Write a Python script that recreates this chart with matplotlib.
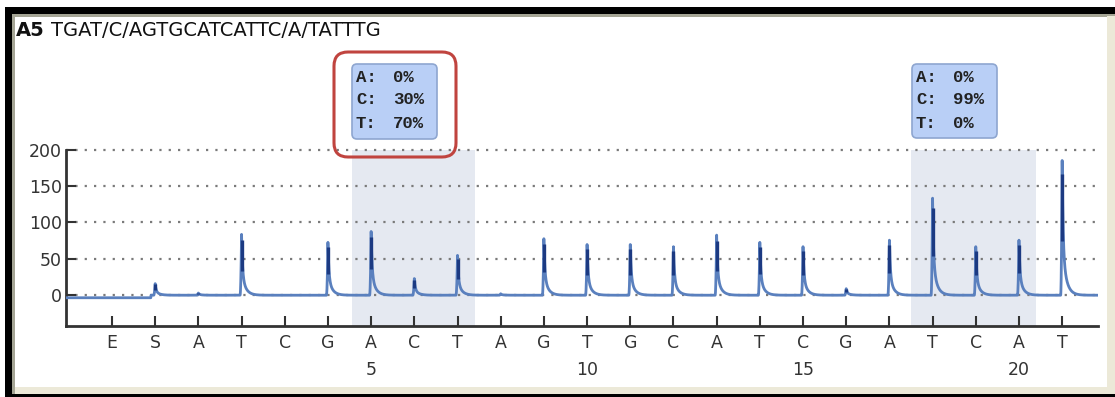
import numpy as np
import matplotlib
matplotlib.use("Agg")
import matplotlib.pyplot as plt
from matplotlib.patches import Rectangle, FancyBboxPatch
from matplotlib.transforms import blended_transform_factory

dispensation = ['E', 'S', 'A', 'T', 'C', 'G', 'A', 'C', 'T', 'A', 'G', 'T',
                'G', 'C', 'A', 'T', 'C', 'G', 'A', 'T', 'C', 'A', 'T']
peak_height = [0, 16, 3, 84, 0, 73, 88, 23, 55, 2, 78, 70,
               70, 67, 83, 73, 67, 9, 76, 134, 67, 76, 186]

# nucleotide numbering under the dispensations
number_labels = ['5', '10', '15', '20']
number_pos = [7, 12, 17, 22]

yticks = [0, 50, 100, 150, 200]

# variable positions (shaded) and their allele percentages
shade_ranges = [(6.56, 9.41), (19.5, 22.4)]
box_bases = ['A:', 'C:', 'T:']
box1_pct = ['0%', '30%', '70%']
box2_pct = ['0%', '99%', '0%']

title_bold = 'A5'
title_seq = 'TGAT/C/AGTGCATCATTC/A/TATTTG'

W, H = 1115, 397
fig = plt.figure(figsize=(W / 100, H / 100), dpi=100)
fig.patch.set_facecolor('white')

# main axes placed by pixel measurements
ax = fig.add_axes([66 / W, 1 - 326 / H, (1098 - 66) / W, (326 - 150) / H])
ax.set_xlim(-0.065, 23.83)
ax.set_ylim(-43, 200)

pos = np.arange(1, len(dispensation) + 1)

# build the trace: steep rise, quick drop, exponential tail
x = np.sort(np.concatenate([np.linspace(-0.065, 23.83, 20000), pos]))
y = np.where(x < 1.9, -4.0, -0.5)
for p, h in zip(pos, peak_height):
    d = x - p
    rise = np.clip((d + 0.035) / 0.035, 0, 1) ** 2
    fall = 0.35 * np.exp(-d / 0.09) + 0.65 * np.exp(-d / 0.022)
    y += h * np.where(d < 0, rise, fall) * (d > -0.035)

for a, b in shade_ranges:
    ax.axvspan(a, b, ymin=0, ymax=1, color='#e5e9f1', lw=0, zorder=0)

for v in yticks:
    ax.axhline(v, color='#7a7a7a', lw=1.6, ls=(0, (1, 3.2)), zorder=1,
               clip_on=False)

ax.plot(x, y, color='#5a80be', lw=2.0, zorder=3, solid_joinstyle='round')
ax.vlines(pos, 0.4 * np.array(peak_height), 0.9 * np.array(peak_height),
          color='#1c3a82', lw=2.4, zorder=4)

ax.spines['top'].set_visible(False)
ax.spines['right'].set_visible(False)
for s in ['left', 'bottom']:
    ax.spines[s].set_color('#333333')
    ax.spines[s].set_linewidth(2)

ax.set_yticks(yticks)
ax.set_yticklabels([str(v) for v in yticks])
ax.set_xticks(pos)
ax.set_xticklabels(dispensation)
ax.tick_params(axis='both', direction='in', colors='#333333', labelsize=12.5,
               length=7, width=1.5)
ax.tick_params(axis='x', pad=6)
ax.tick_params(axis='y', pad=3)
for lbl in ax.get_xticklabels() + ax.get_yticklabels():
    lbl.set_color('#333333')

trans = blended_transform_factory(ax.transData, ax.transAxes)
for lab, p in zip(number_labels, number_pos):
    ax.text(p, -0.25, lab, transform=trans, ha='center', va='center',
            fontsize=12.5, color='#333333')

# overlay in pixel coordinates for frame, title and callout boxes
ov = fig.add_axes([0, 0, 1, 1])
ov.set_xlim(0, W)
ov.set_ylim(H, 0)
ov.axis('off')
ov.patch.set_visible(False)

# window frame
ov.add_patch(Rectangle((5, 7), W - 5, 7, color='black', lw=0))
ov.add_patch(Rectangle((5, 7), 7, H - 7, color='black', lw=0))
ov.add_patch(Rectangle((5, 394), W - 5, 3, color='black', lw=0))
ov.add_patch(Rectangle((12, 14), W - 12, 2.5, color='#a5a595', lw=0))
ov.add_patch(Rectangle((12, 14), 3, 380, color='#a5a595', lw=0))
ov.add_patch(Rectangle((15, 387), W - 15, 7, color='#ece9d8', lw=0))
ov.add_patch(Rectangle((1107, 16), 8, 378, color='#ece9d8', lw=0))

t = ov.text(16, 30, title_bold, fontsize=14, fontweight='bold',
            ha='left', va='center', color='#111111')
fig.canvas.draw()
bb = t.get_window_extent()
ov.text(16 + bb.width + 6, 30, title_seq, fontsize=14,
        ha='left', va='center', color='#111111')


def callout(x0, y0, w, h, pcts):
    ov.add_patch(FancyBboxPatch((x0, y0), w, h,
                                boxstyle='round,pad=0,rounding_size=5',
                                fc='#b9cff6', ec='#8ea6d0', lw=1.2, zorder=5))
    for i, (b, pc) in enumerate(zip(box_bases, pcts)):
        yy = y0 + 13 + i * 23
        ov.text(x0 + 4, yy, b, family='Liberation Mono', fontweight='bold',
                fontsize=12.5, color='#222222', va='center', ha='left', zorder=6)
        ov.text(x0 + 41, yy, pc, family='Liberation Mono', fontweight='bold',
                fontsize=12.5, color='#222222', va='center', ha='left', zorder=6)


callout(352, 64, 85, 75, box1_pct)
callout(912, 64, 85, 74, box2_pct)

# red highlight around the first callout
ov.add_patch(FancyBboxPatch((334, 52), 122, 105,
                            boxstyle='round,pad=0,rounding_size=14',
                            fc='none', ec='#c0443f', lw=2.2, zorder=7))

fig.savefig('out.png', dpi=100)
